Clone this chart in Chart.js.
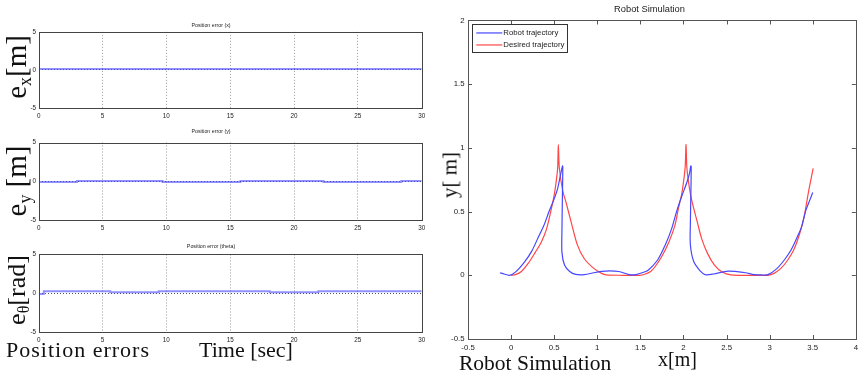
<!DOCTYPE html>
<html>
<head>
<meta charset="utf-8">
<script src="https://cdn.jsdelivr.net/npm/chart.js@4.4.1/dist/chart.umd.min.js"></script>
<style>
  html, body { margin: 0; padding: 0; background: #fff; }
  body { width: 862px; height: 374px; position: relative; overflow: hidden; }
  canvas { position: absolute; }
  .lbl { position: absolute; font-family: "Liberation Serif", "DejaVu Serif", serif; color: #111; white-space: nowrap; line-height: 1; }
  .rot { transform: translate(-50%, -50%) rotate(-90deg); }
  .rot sub { font-size: 62%; vertical-align: -0.25em; }
</style>
</head>
<body>
<canvas id="ex" width="430" height="125" style="left:0;top:0"></canvas>
<canvas id="ey" width="430" height="118" style="left:0;top:122px"></canvas>
<canvas id="eth" width="430" height="105" style="left:0;top:240px"></canvas>
<canvas id="sim" width="422" height="374" style="left:440px;top:0"></canvas>

<div class="lbl rot" style="left:18px;top:67px;font-size:29px">e<sub>x</sub>[m]</div>
<div class="lbl rot" style="left:18px;top:181px;font-size:29px">e<sub>y</sub> [m]</div>
<div class="lbl rot" style="left:18px;top:290px;font-size:26px">e<sub>θ</sub>[rad]</div>
<div class="lbl rot" style="left:450px;top:175px;font-size:21px">y[ m]</div>
<div class="lbl" style="left:6px;top:339px;font-size:22px;letter-spacing:1px">Position errors</div>
<div class="lbl" style="left:199px;top:339px;font-size:22px">Time [sec]</div>
<div class="lbl" style="left:459px;top:353px;font-size:21.5px">Robot Simulation</div>
<div class="lbl" style="left:658px;top:349px;font-size:20px">x[m]</div>

<script>
// ---- position errors over time (piecewise-constant segments) ----
const timeTicks = [0, 5, 10, 15, 20, 25, 30];
const exTime = [0, 30];
const exValue = [0.12, 0.12];
const eyTime = [0, 3.0, 9.7, 15.8, 22.3, 28.4, 30];
const eyValue = [-0.08, 0.05, -0.08, 0.05, -0.08, 0.05, 0.05];
const ethTime = [0, 0.4, 5.6, 9.4, 18.1, 21.9, 30];
const ethValue = [-0.1, 0.26, 0.12, 0.26, 0.12, 0.26, 0.26];

// ---- robot simulation, x/y paths ----
const desiredX = [0, 0.05, 0.12, 0.2, 0.28, 0.35, 0.41, 0.46, 0.5, 0.52, 0.54, 0.548, 0.56, 0.6, 0.636, 0.7, 0.77, 0.85, 0.96, 1.05, 1.1, 1.3, 1.49, 1.55, 1.62, 1.67, 1.75, 1.83, 1.9, 1.94, 1.98, 2.0, 2.02, 2.03, 2.04, 2.07, 2.1, 2.16, 2.21, 2.28, 2.36, 2.45, 2.55, 2.8, 2.98, 3.05, 3.13, 3.2, 3.28, 3.35, 3.4, 3.455, 3.505];
const desiredY = [0, 0.005, 0.03, 0.095, 0.18, 0.26, 0.36, 0.5, 0.63, 0.72, 0.84, 1.026, 0.84, 0.66, 0.576, 0.41, 0.237, 0.13, 0.054, 0.015, 0.003, 0, 0, 0.008, 0.03, 0.067, 0.15, 0.26, 0.39, 0.52, 0.64, 0.73, 0.85, 1.026, 0.84, 0.68, 0.576, 0.42, 0.29, 0.17, 0.08, 0.025, 0.003, 0, 0, 0.015, 0.054, 0.11, 0.2, 0.33, 0.46, 0.67, 0.84];
const robotX = [-0.13, -0.08, -0.02, 0.05, 0.157, 0.24, 0.31, 0.38, 0.44, 0.5, 0.54, 0.58, 0.597, 0.6, 0.595, 0.59, 0.59, 0.62, 0.68, 0.75, 0.85, 0.96, 1.05, 1.14, 1.25, 1.37, 1.45, 1.52, 1.59, 1.7, 1.79, 1.86, 1.92, 1.98, 2.04, 2.07, 2.085, 2.09, 2.085, 2.08, 2.08, 2.12, 2.2, 2.25, 2.35, 2.45, 2.52, 2.6, 2.72, 2.82, 2.9, 2.98, 3.08, 3.17, 3.25, 3.32, 3.37, 3.42, 3.46, 3.5];
const robotY = [0.02, 0.01, 0.0, 0.025, 0.106, 0.19, 0.29, 0.39, 0.5, 0.6, 0.68, 0.81, 0.858, 0.84, 0.6, 0.35, 0.18, 0.08, 0.03, 0.007, 0.005, 0.02, 0.03, 0.035, 0.03, 0.005, 0.005, 0.02, 0.04, 0.12, 0.24, 0.36, 0.5, 0.62, 0.73, 0.8, 0.858, 0.85, 0.6, 0.4, 0.24, 0.106, 0.03, 0.005, 0.01, 0.025, 0.033, 0.03, 0.02, 0.005, 0.003, 0.005, 0.05, 0.12, 0.2, 0.3, 0.38, 0.51, 0.58, 0.65];
const simXTicks = [-0.5, 0, 0.5, 1, 1.5, 2, 2.5, 3, 3.5, 4];
const simYTicks = [-0.5, 0, 0.5, 1, 1.5, 2];

const pts = (xs, ys) => xs.map((x, i) => ({ x, y: ys[i] }));
const plain = v => String(v);
const SANS = '"Liberation Sans", Arial, sans-serif';

// frame around the plotting area
const frame = {
  id: 'frame',
  afterDatasetsDraw(chart, args, opts) {
    const { ctx, chartArea: a } = chart;
    ctx.save();
    ctx.strokeStyle = opts.color || '#444';
    ctx.lineWidth = 1;
    ctx.strokeRect(Math.round(a.left) + 0.5, Math.round(a.top) + 0.5,
                   Math.round(a.right - a.left), Math.round(a.bottom - a.top));
    ctx.restore();
  }
};

// inward tick marks on all four sides
const innerTicks = {
  id: 'innerTicks',
  afterDraw(chart, args, opts) {
    if (!opts.enabled) return;
    const { ctx, chartArea: a, scales } = chart;
    const L = 4;
    ctx.save();
    ctx.strokeStyle = '#555';
    ctx.lineWidth = 1;
    ctx.beginPath();
    scales.x.ticks.forEach(t => {
      const px = Math.round(scales.x.getPixelForValue(t.value)) + 0.5;
      ctx.moveTo(px, a.bottom); ctx.lineTo(px, a.bottom - L);
      ctx.moveTo(px, a.top); ctx.lineTo(px, a.top + L);
    });
    scales.y.ticks.forEach(t => {
      const py = Math.round(scales.y.getPixelForValue(t.value)) + 0.5;
      ctx.moveTo(a.left, py); ctx.lineTo(a.left + L, py);
      ctx.moveTo(a.right, py); ctx.lineTo(a.right - L, py);
    });
    ctx.stroke();
    ctx.restore();
  }
};

// boxed legend in the upper-left corner of the plot
const boxLegend = {
  id: 'boxLegend',
  afterDraw(chart, args, opts) {
    if (!opts.enabled) return;
    const { ctx, chartArea: a } = chart;
    const bx = a.left + 4.3, by = a.top + 3.8, bw = 95, bh = 28;
    ctx.save();
    ctx.fillStyle = '#fff';
    ctx.fillRect(bx, by, bw, bh);
    ctx.strokeStyle = '#333';
    ctx.lineWidth = 1;
    ctx.strokeRect(Math.round(bx) + 0.5, Math.round(by) + 0.5, bw, bh);
    ctx.font = '7.8px ' + SANS;
    ctx.textBaseline = 'middle';
    chart.data.datasets.forEach((ds, i) => {
      const y = by + 8.7 + i * 12;
      ctx.strokeStyle = ds.borderColor;
      ctx.lineWidth = 1.2;
      ctx.beginPath();
      ctx.moveTo(bx + 4, y); ctx.lineTo(bx + 30, y);
      ctx.stroke();
      ctx.fillStyle = '#222';
      ctx.fillText(ds.label, bx + 31, y);
    });
    ctx.restore();
  }
};

function errorChart(id, title, times, values, stepped, pad) {
  const ctx = document.getElementById(id);
  return new Chart(ctx, {
    type: 'line',
    data: {
      datasets: [{
        label: title,
        data: pts(times, values),
        borderColor: 'rgba(70,70,255,0.6)',
        borderWidth: 2,
        pointRadius: 0,
        stepped: stepped,
        tension: 0
      }]
    },
    options: {
      responsive: false,
      animation: false,
      layout: { padding: { left: 0, right: 8, top: 0, bottom: 0 } },
      plugins: {
        legend: { display: false },
        tooltip: { enabled: false },
        title: {
          display: true, text: title, color: '#222',
          font: { family: SANS, size: 5.3, weight: 'normal', lineHeight: 1.2 },
          padding: { top: pad.top, bottom: pad.bottom }
        },
        frame: { color: '#444' },
        innerTicks: { enabled: false },
        boxLegend: { enabled: false }
      },
      scales: {
        x: {
          type: 'linear', min: 0, max: 30,
          afterBuildTicks: s => { s.ticks = timeTicks.map(v => ({ value: v })); },
          afterFit: s => { s.height = pad.xh; },
          ticks: { color: '#222', padding: 4.8, font: { family: SANS, size: 6.3 }, callback: plain },
          grid: {
            drawTicks: false,
            color: c => (c.tick && c.tick.value > 0 && c.tick.value < 30) ? '#999' : 'rgba(0,0,0,0)',
            lineWidth: 1
          },
          border: { display: false, dash: [1, 2] }
        },
        y: {
          type: 'linear', min: -5, max: 5,
          afterBuildTicks: s => { s.ticks = [-5, 0, 5].map(v => ({ value: v })); },
          afterFit: s => { s.width = 38.7; },
          ticks: { color: '#222', padding: 2.7, font: { family: SANS, size: 6.3 }, callback: plain },
          grid: {
            drawTicks: false,
            color: c => (c.tick && c.tick.value === 0) ? '#555' : 'rgba(0,0,0,0)',
            lineWidth: 1
          },
          border: { display: false, dash: [1, 2] }
        }
      }
    },
    plugins: [frame, innerTicks, boxLegend]
  });
}

errorChart('ex', 'Position error (x)', exTime, exValue, false, { top: 22.4, bottom: 3.1, xh: 17 });
errorChart('ey', 'Position error (y)', eyTime, eyValue, 'before', { top: 6, bottom: 8.2, xh: 20 });
errorChart('eth', 'Position error (theta)', ethTime, ethValue, 'before', { top: 3.7, bottom: 4.4, xh: 13 });

new Chart(document.getElementById('sim'), {
  type: 'scatter',
  data: {
    datasets: [
      {
        label: 'Robot trajectory',
        data: pts(robotX, robotY),
        showLine: true,
        borderColor: '#4747ff',
        borderWidth: 1.2,
        pointRadius: 0,
        tension: 0.3
      },
      {
        label: 'Desired trajectory',
        data: pts(desiredX, desiredY),
        showLine: true,
        borderColor: '#ff4747',
        borderWidth: 1.2,
        pointRadius: 0,
        tension: 0.3
      }
    ]
  },
  options: {
    responsive: false,
    animation: false,
    layout: { padding: { left: 0, right: 3, top: 0, bottom: 0 } },
    plugins: {
      legend: { display: false },
      tooltip: { enabled: false },
      title: {
        display: true, text: 'Robot Simulation', color: '#222',
        font: { family: SANS, size: 9.3, weight: 'normal', lineHeight: 1.2 },
        padding: { top: 4, bottom: 5.3 }
      },
      frame: { color: '#555' },
      innerTicks: { enabled: true },
      boxLegend: { enabled: true }
    },
    scales: {
      x: {
        type: 'linear', min: -0.5, max: 4,
        afterBuildTicks: s => { s.ticks = simXTicks.map(v => ({ value: v })); },
        afterFit: s => { s.height = 35; },
        ticks: { color: '#222', padding: 4, font: { family: SANS, size: 7.8 }, callback: plain },
        grid: { display: false, drawTicks: false },
        border: { display: false }
      },
      y: {
        type: 'linear', min: -0.5, max: 2,
        afterBuildTicks: s => { s.ticks = simYTicks.map(v => ({ value: v })); },
        afterFit: s => { s.width = 28; },
        ticks: { color: '#222', padding: 3.5, font: { family: SANS, size: 7.8 }, callback: plain },
        grid: { display: false, drawTicks: false },
        border: { display: false }
      }
    }
  },
  plugins: [frame, innerTicks, boxLegend]
});
</script>
</body>
</html>
